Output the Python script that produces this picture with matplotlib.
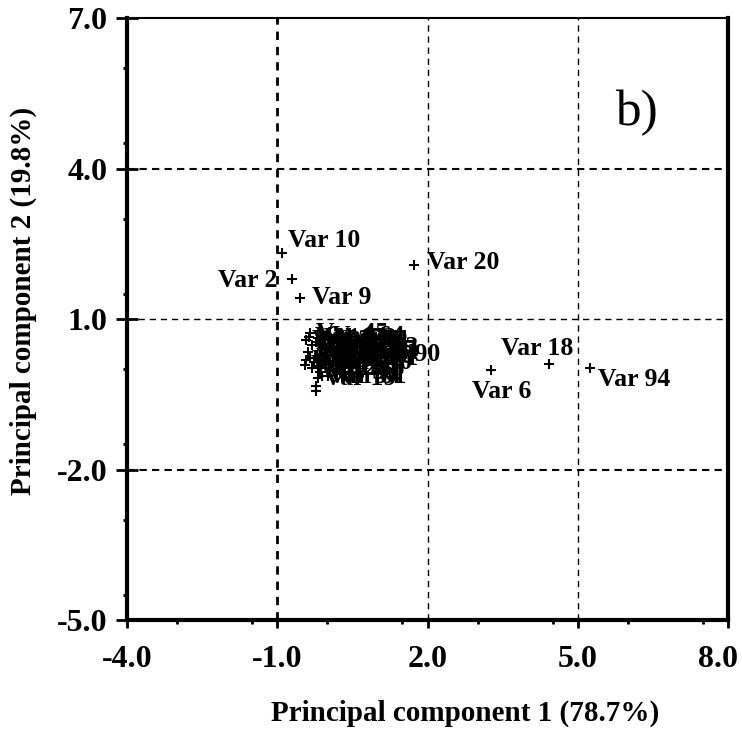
import matplotlib.pyplot as plt
import matplotlib.transforms as mtransforms
from matplotlib.ticker import MultipleLocator

plt.rcParams['font.family'] = ['Liberation Serif', 'DejaVu Serif']

# variables that sit away from the main group (PC1, PC2 scores)
outlier_names = ['Var 10', 'Var 2', 'Var 9', 'Var 20', 'Var 6', 'Var 18', 'Var 94']
outlier_x = [-0.90, -0.70, -0.55, 1.73, 3.27, 4.43, 5.25]
outlier_y = [2.32, 1.80, 1.42, 2.08, -0.02, 0.10, 0.02]

# the dense group of variables near the origin
cluster_names = ['Var 45', 'Var 33', 'Var 52', 'Var 27', 'Var 64', 'Var 71', 'Var 38',
                 'Var 12', 'Var 56', 'Var 83', 'Var 77', 'Var 41', 'Var 66', 'Var 29',
                 'Var 58', 'Var 15', 'Var 47', 'Var 23', 'Var 35', 'Var 19', 'Var 81',
                 'Var 90', 'Var 14', 'Var 16', 'Var 17', 'Var 21', 'Var 22', 'Var 24',
                 'Var 25', 'Var 26', 'Var 28', 'Var 30', 'Var 31', 'Var 32', 'Var 34',
                 'Var 36']
cluster_x = [-0.35, -0.43, -0.19, -0.31, -0.03, 0.09, -0.11, -0.39, 0.05, 0.25, 0.21,
             -0.25, 0.15, -0.05, 0.17, -0.45, -0.27, -0.31, -0.15, -0.19, 0.01, 0.69,
             -0.37, -0.23, -0.07, -0.15, 0.05, 0.25, -0.35, -0.19, -0.03, 0.13, 0.25,
             -0.43, -0.11, 0.01]
cluster_y = [0.72, 0.58, 0.62, 0.48, 0.66, 0.58, 0.38, 0.34, 0.50, 0.44, 0.38,
             0.22, 0.28, 0.14, 0.26, 0.08, 0.14, 0.02, -0.06, -0.18, -0.14, 0.30,
             0.64, 0.54, 0.50, 0.26, 0.34, 0.34, 0.22, 0.06, 0.02, 0.14, 0.22,
             0.18, -0.14, 0.58]

# unlabeled points under the group
extra_x = [-0.23, -0.23]
extra_y = [-0.34, -0.44]

x_ticks = [-4.0, -1.0, 2.0, 5.0, 8.0]
y_ticks = [-5.0, -2.0, 1.0, 4.0, 7.0]

# label offsets in pixels (dx, dy, ha)
label_offsets = {
    'Var 10': (6, 12, 'left'),
    'Var 2': (-15, -2, 'right'),
    'Var 9': (12, 0, 'left'),
    'Var 20': (13, 2, 'left'),
    'Var 6': (-19, -21, 'left'),
    'Var 18': (-48, 16, 'left'),
    'Var 94': (8, -11, 'left'),
}

fig = plt.figure(figsize=(7.42, 7.29), dpi=100)
ax = fig.add_axes([0.1712, 0.1495, 0.8099, 0.8258])

# reference lines
for xv in x_ticks[1:-1]:
    if xv == -1.0:
        ax.axvline(xv, color='black', lw=2.0, ls=(0, (3, 2.5)), zorder=1)
    else:
        ax.axvline(xv, color='black', lw=1.0, ls=(0, (4.5, 3.5)), zorder=1)
for yv in y_ticks[1:-1]:
    if yv == 1.0:
        ax.axhline(yv, color='black', lw=1.0, ls=(0, (4.5, 3.5)), zorder=1)
    else:
        ax.axhline(yv, color='black', lw=1.5, ls=(0, (3.5, 2.5)), zorder=1)

all_x = outlier_x + cluster_x + extra_x
all_y = outlier_y + cluster_y + extra_y
ax.plot(all_x, all_y, ls='none', marker='+', color='black', ms=7, mew=1.5, zorder=3)

for name, x, y in zip(outlier_names, outlier_x, outlier_y):
    dx, dy, ha = label_offsets[name]
    ax.annotate(name, (x, y), xytext=(dx, dy), textcoords='offset pixels',
                ha=ha, va='center', fontsize=18.5, fontweight='bold', zorder=4)
for name, x, y in zip(cluster_names, cluster_x, cluster_y):
    ax.annotate(name, (x, y), xytext=(6, 0), textcoords='offset pixels',
                ha='left', va='center', fontsize=18.5, fontweight='bold', zorder=4)

ax.text(0.812, 0.822, 'b)', transform=ax.transAxes, fontsize=37, ha='left', va='baseline')

ax.set_xlim(-4, 8)
ax.set_ylim(-5, 7)
ax.set_xticks(x_ticks)
ax.set_yticks(y_ticks)
ax.set_xticklabels([f'{v:.1f}' for v in x_ticks], fontsize=23, fontweight='bold')
ax.set_yticklabels([f'{v:.1f}' for v in y_ticks], fontsize=23, fontweight='bold')
ax.xaxis.set_minor_locator(MultipleLocator(1.5))
ax.yaxis.set_minor_locator(MultipleLocator(1.5))

ax.tick_params(axis='x', which='major', direction='out', length=6, width=2, pad=12)
ax.tick_params(axis='y', which='major', direction='inout', length=16, width=2, pad=6)
ax.tick_params(which='minor', direction='out', length=3, width=2)
ax.tick_params(top=False, right=False, which='both')

# keep the last x tick label inside the figure
last = ax.get_xticklabels()[-1]
last.set_transform(last.get_transform() +
                   mtransforms.ScaledTranslation(-0.1, 0, fig.dpi_scale_trans))

for side in ['left', 'bottom', 'right']:
    ax.spines[side].set_linewidth(3)
ax.spines['top'].set_linewidth(1.5)

ax.set_xlabel('Principal component 1 (78.7%)', fontsize=21, fontweight='bold')
ax.xaxis.set_label_coords(0.562, -0.133)
ax.set_ylabel('Principal component 2 (19.8%)', fontsize=21, fontweight='bold')
ax.yaxis.set_label_coords(-0.15, 0.53)

fig.savefig('out.png', dpi=100)
